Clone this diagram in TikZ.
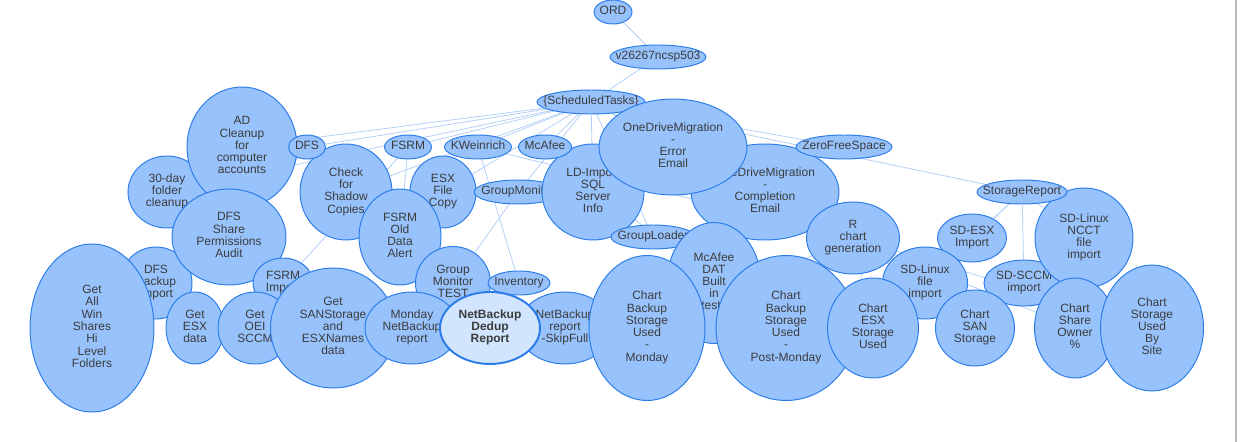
\documentclass[tikz,border=0pt]{standalone}
\usepackage{fontspec}
\setmainfont{Liberation Sans}
\usetikzlibrary{shapes.geometric}
\definecolor{nodefill}{HTML}{97C2FC}
\definecolor{nodeline}{HTML}{2B7CE9}
\definecolor{pickfill}{HTML}{D2E5FF}
\definecolor{treeblue}{HTML}{B3CFF8}
\definecolor{labelgray}{HTML}{3C3C3C}
\newcommand\nodetext[1]{\makebox[0pt]{\begin{tabular}{@{}c@{}}#1\end{tabular}}}
\pgfdeclarelayer{background}
\pgfsetlayers{background,main}
\tikzset{
  task/.style={ellipse,draw=nodeline,fill=nodefill,line width=0.55pt,inner sep=0pt,text=labelgray,font=\fontsize{6.83pt}{6.9pt}\selectfont},
  picked/.style={task,fill=pickfill,line width=1.1pt,font=\fontsize{6.83pt}{6.9pt}\selectfont\bfseries},
  treeline/.style={draw=treeblue,line width=0.45pt}
}

\begin{document}
\begin{tikzpicture}[x=0.02cm,y=-0.02cm]
\useasboundingbox (0,0) rectangle (1245,442);

\node[task,minimum width=0.76cm,minimum height=0.48cm] (ord) at (613,12) {\nodetext{ORD}};
\node[task,minimum width=1.92cm,minimum height=0.48cm] (srv) at (658,57) {\nodetext{v26267ncsp503}};
\node[task,minimum width=2.16cm,minimum height=0.48cm] (tasks) at (591,102) {\nodetext{\{ScheduledTasks\}}};

\node[task,minimum width=1.56cm,minimum height=1.44cm] (thirty) at (167,192) {\nodetext{30-day\\folder\\cleanup}};
\node[task,minimum width=2.2cm,minimum height=2.4cm] (adclean) at (242,147) {\nodetext{AD\\Cleanup\\for\\computer\\accounts}};
\node[task,minimum width=1.84cm,minimum height=1.92cm] (shadow) at (346,192) {\nodetext{Check\\for\\Shadow\\Copies}};
\node[task,minimum width=1.32cm,minimum height=1.44cm] (esxcopy) at (443,192) {\nodetext{ESX\\File\\Copy}};
\node[task,minimum width=1.76cm,minimum height=0.48cm] (grpmon) at (518,192) {\nodetext{GroupMonitor}};
\node[task,minimum width=2.04cm,minimum height=1.92cm] (ldimp) at (593,192) {\nodetext{LD-Import\\SQL\\Server\\Info}};
\node[task,minimum width=2.96cm,minimum height=1.92cm] (odcomp) at (765,192) {\nodetext{OneDriveMigration\\-\\Completion\\Email}};
\node[task,minimum width=2.96cm,minimum height=1.92cm] (oderr) at (673,147) {\nodetext{OneDriveMigration\\-\\Error\\Email}};
\node[task,minimum width=0.74cm,minimum height=0.48cm] (dfs) at (307,147) {\nodetext{DFS}};
\node[task,minimum width=0.94cm,minimum height=0.48cm] (fsrm) at (408,147) {\nodetext{FSRM}};
\node[task,minimum width=1.34cm,minimum height=0.48cm] (kwein) at (478,147) {\nodetext{KWeinrich}};
\node[task,minimum width=1.06cm,minimum height=0.48cm] (mcafee) at (545,147) {\nodetext{McAfee}};
\node[task,minimum width=1.92cm,minimum height=0.48cm] (zero) at (844,147) {\nodetext{ZeroFreeSpace}};

\node[task,minimum width=1.44cm,minimum height=1.44cm] (dfsbak) at (156,283) {\nodetext{DFS\\Backup\\Import}};
\node[task,minimum width=2.28cm,minimum height=1.92cm] (dfsaudit) at (229,237) {\nodetext{DFS\\Share\\Permissions\\Audit}};
\node[task,minimum width=1.64cm,minimum height=1.92cm] (fsrmold) at (400,237) {\nodetext{FSRM\\Old\\Data\\Alert}};
\node[task,minimum width=1.68cm,minimum height=0.48cm] (grpload) at (653,237) {\nodetext{GroupLoader}};
\node[task,minimum width=1.86cm,minimum height=1.44cm] (rchart) at (853,238) {\nodetext{R\\chart\\generation}};
\node[task,minimum width=1.38cm,minimum height=0.96cm] (sdesx) at (972,238) {\nodetext{SD-ESX\\Import}};
\node[task,minimum width=1.6cm,minimum height=0.92cm] (sdsccm) at (1024,283) {\nodetext{SD-SCCM\\import}};
\node[task,minimum width=1.96cm,minimum height=2cm] (sdncct) at (1084,238) {\nodetext{SD-Linux\\NCCT\\file\\import}};
\node[task,minimum width=1.8cm,minimum height=0.48cm] (storrep) at (1022,192) {\nodetext{StorageReport}};

\node[task,minimum width=1.2cm,minimum height=1cm] (fsrmimp) at (283,283) {\nodetext{FSRM\\Import}};
\node[task,minimum width=2.48cm,minimum height=3.36cm] (winshares) at (92,328) {\nodetext{Get\\All\\Win\\Shares\\Hi\\Level\\Folders}};
\node[task,minimum width=1.16cm,minimum height=1.44cm] (getesx) at (195,328) {\nodetext{Get\\ESX\\data}};
\node[task,minimum width=1.48cm,minimum height=1.44cm] (getoei) at (255,328) {\nodetext{Get\\OEI\\SCCM}};
\node[task,minimum width=2.5cm,minimum height=2.4cm] (getsan) at (333,328) {\nodetext{Get\\SANStorage\\and\\ESXNames\\data}};
\node[task,minimum width=1.5cm,minimum height=1.46cm] (grptest) at (453,283) {\nodetext{Group\\Monitor\\TEST}};
\node[task,minimum width=1.88cm,minimum height=1.44cm] (monday) at (412,328) {\nodetext{Monday\\NetBackup\\report}};
\node[task,minimum width=1.24cm,minimum height=0.48cm] (inventory) at (519,283) {\nodetext{Inventory}};
\node[task,minimum width=1.88cm,minimum height=1.44cm] (skipfull) at (565,328) {\nodetext{NetBackup\\report\\-SkipFull}};
\node[task,minimum width=1.88cm,minimum height=2.42cm] (mcafeedat) at (714,283) {\nodetext{McAfee\\DAT\\Built\\in\\tests}};
\node[task,minimum width=2.32cm,minimum height=2.9cm] (chartmon) at (647,328) {\nodetext{Chart\\Backup\\Storage\\Used\\-\\Monday}};
\node[task,minimum width=2.8cm,minimum height=2.9cm] (chartpost) at (786,328) {\nodetext{Chart\\Backup\\Storage\\Used\\-\\Post-Monday}};
\node[task,minimum width=1.7cm,minimum height=1.44cm] (sdlinux) at (925,283) {\nodetext{SD-Linux\\file\\import}};
\node[task,minimum width=1.82cm,minimum height=2cm] (chartesx) at (873,328) {\nodetext{Chart\\ESX\\Storage\\Used}};
\node[task,minimum width=1.58cm,minimum height=1.52cm] (chartsan) at (975,328) {\nodetext{Chart\\SAN\\Storage}};
\node[task,minimum width=1.62cm,minimum height=2cm] (chartshare) at (1075,328) {\nodetext{Chart\\Share\\Owner\\\%}};
\node[task,minimum width=2.06cm,minimum height=2.52cm] (chartsite) at (1152,328) {\nodetext{Chart\\Storage\\Used\\By\\Site}};
\node[picked,minimum width=2cm,minimum height=1.44cm] (dedup) at (490,328) {\nodetext{NetBackup\\Dedup\\Report}};

\begin{pgfonlayer}{background}
\draw[treeline] (ord) -- (srv);
\draw[treeline] (srv) -- (tasks);
\draw[treeline] (tasks) -- (adclean) (tasks) -- (thirty) (tasks) -- (dfs) (tasks) -- (shadow) (tasks) -- (fsrm);
\draw[treeline] (tasks) -- (kwein) (tasks) -- (esxcopy) (tasks) -- (mcafee) (tasks) -- (grpmon) (tasks) -- (ldimp) (tasks) -- (grpload);
\draw[treeline] (tasks) -- (oderr) (tasks) -- (odcomp) (tasks) -- (zero) (tasks) -- (storrep);
\draw[treeline] (dfs) -- (dfsaudit) (dfs) -- (dfsbak);
\draw[treeline] (fsrm) -- (fsrmold) (fsrm) -- (fsrmimp);
\draw[treeline] (kwein) -- (inventory) (kwein) -- (rchart);
\draw[treeline] (grpmon) -- (grptest);
\draw[treeline] (mcafee) -- (mcafeedat);
\draw[treeline] (storrep) -- (sdesx) (storrep) -- (sdncct) (storrep) -- (sdsccm) (storrep) -- (sdlinux);
\draw[treeline] (rchart) -- (chartmon) (rchart) -- (chartpost) (rchart) -- (chartesx) (rchart) -- (chartsan) (rchart) -- (chartshare) (rchart) -- (chartsite);
\end{pgfonlayer}

\draw[gray!55,line width=1.1pt] (1236,0) -- (1236,442);
\end{tikzpicture}
\end{document}
